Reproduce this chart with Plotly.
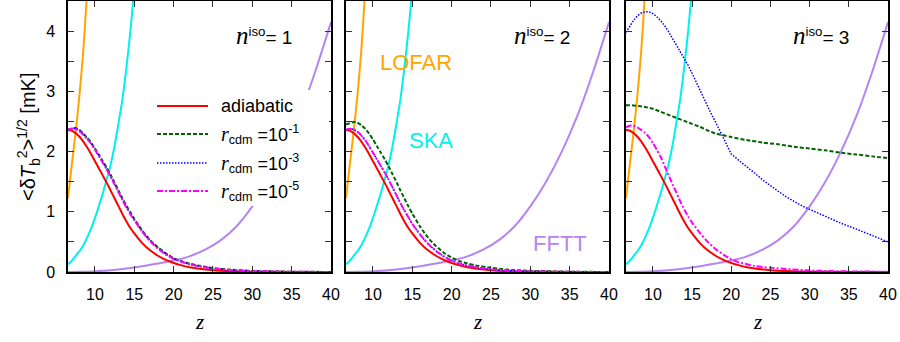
import plotly.graph_objects as go

# ---------------- data ----------------
z_main = [6.57, 7, 7.5, 8, 8.5, 9, 9.5, 10, 10.5, 11, 11.5, 12, 12.5, 13, 13.5, 14, 14.5, 15,
          16, 17, 18, 19, 20, 21, 22, 23, 25, 27, 30, 35, 40]

adiabatic = [2.36, 2.35, 2.31, 2.25, 2.17, 2.07, 1.96, 1.84, 1.72, 1.60, 1.48, 1.35, 1.22, 1.09, 0.96,
             0.84, 0.73, 0.64, 0.48, 0.36, 0.27, 0.20, 0.15, 0.11, 0.08, 0.06, 0.03, 0.015, 0.005, 0.001, 0.0]

# n_iso = 1
r1_n1 = [2.36, 2.38, 2.39, 2.36, 2.30, 2.23, 2.15, 2.05, 1.95, 1.84, 1.73, 1.61, 1.48, 1.35, 1.22,
         1.10, 0.99, 0.88, 0.69, 0.53, 0.41, 0.31, 0.23, 0.18, 0.14, 0.11, 0.065, 0.04, 0.018, 0.005, 0.001]
r3_n1 = [2.36, 2.38, 2.38, 2.35, 2.29, 2.22, 2.14, 2.04, 1.93, 1.82, 1.71, 1.59, 1.46, 1.33, 1.20,
         1.08, 0.97, 0.87, 0.68, 0.52, 0.40, 0.30, 0.22, 0.17, 0.13, 0.10, 0.06, 0.035, 0.016, 0.004, 0.001]
r5_n1 = [2.36, 2.38, 2.38, 2.34, 2.28, 2.21, 2.13, 2.03, 1.92, 1.81, 1.70, 1.58, 1.45, 1.32, 1.19,
         1.07, 0.96, 0.86, 0.67, 0.51, 0.39, 0.29, 0.22, 0.17, 0.13, 0.10, 0.06, 0.035, 0.015, 0.004, 0.001]

# n_iso = 2
r1_n2 = [2.45, 2.47, 2.49, 2.48, 2.44, 2.38, 2.30, 2.20, 2.09, 1.98, 1.87, 1.75, 1.62, 1.49, 1.35,
         1.22, 1.09, 0.97, 0.75, 0.57, 0.43, 0.32, 0.24, 0.18, 0.14, 0.11, 0.07, 0.04, 0.02, 0.005, 0.001]
r3_n2 = [2.36, 2.38, 2.37, 2.33, 2.27, 2.19, 2.09, 1.98, 1.87, 1.76, 1.65, 1.53, 1.40, 1.27, 1.14,
         1.02, 0.91, 0.80, 0.62, 0.47, 0.35, 0.26, 0.19, 0.14, 0.105, 0.08, 0.045, 0.025, 0.01, 0.003, 0.0]
r5_n2 = [2.36, 2.38, 2.37, 2.33, 2.27, 2.19, 2.09, 1.98, 1.87, 1.76, 1.65, 1.53, 1.40, 1.27, 1.14,
         1.02, 0.91, 0.80, 0.62, 0.47, 0.35, 0.26, 0.19, 0.14, 0.105, 0.08, 0.045, 0.025, 0.01, 0.003, 0.0]

# n_iso = 3
r5_n3 = [2.40, 2.43, 2.43, 2.40, 2.36, 2.31, 2.24, 2.14, 2.03, 1.91, 1.76, 1.61, 1.46, 1.32, 1.17,
         1.04, 0.92, 0.82, 0.65, 0.50, 0.38, 0.29, 0.21, 0.16, 0.13, 0.10, 0.07, 0.05, 0.025, 0.01, 0.005]

z_r1_n3 = [6.57, 7, 8, 9, 10, 11, 12, 13, 14, 15, 16, 17, 18, 19, 20, 22, 24, 26, 28, 30, 32, 34, 36, 38, 40]
r1_n3 = [2.77, 2.77, 2.76, 2.74, 2.71, 2.66, 2.61, 2.56, 2.51, 2.46, 2.41, 2.35, 2.30, 2.27, 2.24,
         2.19, 2.15, 2.12, 2.08, 2.05, 2.02, 1.98, 1.95, 1.92, 1.89]

z_r3_n3 = [6.57, 7, 7.5, 8, 8.5, 9, 9.5, 10, 10.5, 11, 11.5, 12, 12.5, 13, 13.5, 14, 14.5, 15, 15.5,
           16, 16.5, 17, 17.5, 18, 18.5, 19, 19.5, 20, 21, 22, 23, 24, 25, 26, 27, 28, 29, 30,
           32, 34, 36, 38, 40]
r3_n3 = [3.98, 4.07, 4.17, 4.25, 4.30, 4.32, 4.32, 4.29, 4.24, 4.17, 4.09, 3.99, 3.88, 3.77, 3.66,
         3.55, 3.43, 3.30, 3.16, 3.02, 2.87, 2.74, 2.61, 2.49, 2.36, 2.23, 2.10, 1.96, 1.85, 1.75,
         1.64, 1.53, 1.43, 1.34, 1.25, 1.17, 1.10, 1.04, 0.92, 0.81, 0.71, 0.61, 0.50]

# instrument sensitivities
z_lofar = [6.57, 7.0, 7.5, 8.0, 8.5, 8.9, 9.3]
lofar = [1.23, 1.72, 2.28, 2.90, 3.65, 4.45, 5.40]

z_ska = [6.57, 7, 7.5, 8, 8.5, 9, 9.5, 10, 10.5, 11, 11.5, 12, 12.5, 13, 13.5, 14, 14.5, 14.85, 15.2]
ska = [0.13, 0.18, 0.26, 0.34, 0.44, 0.57, 0.72, 0.90, 1.10, 1.31, 1.54, 1.79, 2.10, 2.48, 2.88,
       3.40, 4.00, 4.50, 5.10]

z_fftt = [6.57, 8, 10, 12, 14, 16, 18, 20, 22, 24, 26, 28, 30, 32, 34, 36, 38, 40]
fftt = [0.0, 0.003, 0.012, 0.03, 0.058, 0.095, 0.14, 0.19, 0.26, 0.37, 0.53, 0.76, 1.09, 1.50,
        2.00, 2.60, 3.33, 4.15]

panel_labels = ["1", "2", "3"]
x_ticks = [10, 15, 20, 25, 30, 35, 40]
y_ticks = [0, 1, 2, 3, 4]
legend_labels = [
    "adiabatic",
    "<span style='font-family:Liberation Serif;font-size:20px'><i>r</i></span><sub>cdm</sub> =10<sup>-1</sup>",
    "<span style='font-family:Liberation Serif;font-size:20px'><i>r</i></span><sub>cdm</sub> =10<sup>-3</sup>",
    "<span style='font-family:Liberation Serif;font-size:20px'><i>r</i></span><sub>cdm</sub> =10<sup>-5</sup>",
]

# ---------------- styles ----------------
W, H = 900, 342
C_RED, C_GREEN, C_BLUE, C_MAG = "#ff0000", "#006400", "#0000ff", "#ff00ff"
C_ORANGE, C_CYAN, C_PURPLE = "#ffa500", "#00f0f0", "#b684f2"
DASH_G = "4px,2px"
DASH_B = "1.5px,1.5px"
DASH_M = "6px,2px,2px,2px"
FONT = "Liberation Sans, Arial, Helvetica, sans-serif"
SERIF = "Liberation Serif, Times New Roman, serif"

panels_px = [(68, 331), (346, 609), (626, 888)]
y_top_px, y_bot_px = 1, 272

fig = go.Figure()

per_panel = [
    [(z_main, r1_n1), (z_main, r3_n1), (z_main, r5_n1)],
    [(z_main, r1_n2), (z_main, r3_n2), (z_main, r5_n2)],
    [(z_r1_n3, r1_n3), (z_r3_n3, r3_n3), (z_main, r5_n3)],
]

for i in range(3):
    xa = "x" if i == 0 else f"x{i+1}"
    ya = "y" if i == 0 else f"y{i+1}"
    fig.add_trace(go.Scatter(x=z_fftt, y=fftt, xaxis=xa, yaxis=ya, mode="lines",
                             line=dict(color=C_PURPLE, width=2, shape="spline", smoothing=0.8),
                             showlegend=False, hoverinfo="skip"))
    fig.add_trace(go.Scatter(x=z_ska, y=ska, xaxis=xa, yaxis=ya, mode="lines",
                             line=dict(color=C_CYAN, width=2, shape="spline", smoothing=0.6),
                             showlegend=False, hoverinfo="skip"))
    fig.add_trace(go.Scatter(x=z_lofar, y=lofar, xaxis=xa, yaxis=ya, mode="lines",
                             line=dict(color=C_ORANGE, width=2, shape="spline", smoothing=0.6),
                             showlegend=False, hoverinfo="skip"))
    (zg, g), (zb, b), (zm, m) = per_panel[i]
    fig.add_trace(go.Scatter(x=z_main, y=adiabatic, xaxis=xa, yaxis=ya, mode="lines",
                             line=dict(color=C_RED, width=2, shape="spline", smoothing=0.6),
                             showlegend=False))
    fig.add_trace(go.Scatter(x=zg, y=g, xaxis=xa, yaxis=ya, mode="lines",
                             line=dict(color=C_GREEN, width=2, dash=DASH_G, shape="spline", smoothing=0.6),
                             showlegend=False))
    fig.add_trace(go.Scatter(x=zb, y=b, xaxis=xa, yaxis=ya, mode="lines",
                             line=dict(color=C_BLUE, width=1.5, dash=DASH_B,
                                       shape="linear" if i == 2 else "spline", smoothing=0.6),
                             showlegend=False))
    fig.add_trace(go.Scatter(x=zm, y=m, xaxis=xa, yaxis=ya, mode="lines",
                             line=dict(color=C_MAG, width=2, dash=DASH_M, shape="spline", smoothing=0.6),
                             showlegend=False))

ydom = [1 - y_bot_px / H, 1 - y_top_px / H]
layout = dict(
    width=W, height=H, margin=dict(l=0, r=0, t=0, b=0),
    paper_bgcolor="white", plot_bgcolor="white",
    font=dict(family=FONT, size=16, color="black"),
    showlegend=False,
)
for i, (l, r) in enumerate(panels_px):
    sx = "" if i == 0 else str(i + 1)
    layout[f"xaxis{sx}"] = dict(
        domain=[l / W, r / W], range=[6.57, 40], anchor=f"y{sx}",
        tickvals=x_ticks, ticks="inside", ticklen=6, tickwidth=1, tickcolor="#333",
        showline=True, linecolor="black", linewidth=1.5, mirror="ticks",
        showgrid=False, zeroline=False, ticklabelstandoff=7,
        tickfont=dict(size=16), automargin=False,
    )
    layout[f"yaxis{sx}"] = dict(
        domain=ydom, range=[0, 4.5], anchor=f"x{sx}",
        tickvals=y_ticks, ticks="inside", ticklen=6, tickwidth=1, tickcolor="#333",
        minor=dict(dtick=0.5, tick0=0, ticks="inside", ticklen=6, tickwidth=1, tickcolor="#333"),
        showline=True, linecolor="black", linewidth=1.5, mirror="ticks",
        showgrid=False, zeroline=False, showticklabels=(i == 0),
        ticklabelstandoff=8, tickfont=dict(size=16), automargin=False,
    )
fig.update_layout(**layout)

anns = []
shapes = []
for i, (l, r) in enumerate(panels_px):
    anns.append(dict(xref="paper", yref="paper", x=(r - 37) / W, y=1 - 35 / H,
                     xanchor="right", yanchor="middle", showarrow=False,
                     text=(f"<span style='font-family:{SERIF};font-size:25px'><i>n</i></span>"
                           f"<sup>iso</sup>= {panel_labels[i]}"),
                     font=dict(size=19, color="black")))
    anns.append(dict(xref="paper", yref="paper", x=(l + r) / 2 / W, y=1 - 322 / H,
                     xanchor="center", yanchor="middle", showarrow=False,
                     text="<i>z</i>", font=dict(family=SERIF, size=21, color="black")))
anns.append(dict(xref="paper", yref="paper", x=28 / W, y=1 - 137 / H, textangle=-90,
                 xanchor="center", yanchor="middle", showarrow=False,
                 text="&lt;δ<i>T</i><sub>b</sub><sup>2</sup>&gt;<sup>1/2</sup> [mK]",
                 font=dict(size=20, color="black")))
anns.append(dict(xref="paper", yref="paper", x=416 / W, y=1 - 62 / H, showarrow=False,
                 xanchor="center", yanchor="middle", text="LOFAR",
                 font=dict(size=22, color=C_ORANGE)))
anns.append(dict(xref="paper", yref="paper", x=431 / W, y=1 - 140 / H, showarrow=False,
                 xanchor="center", yanchor="middle", text="SKA",
                 font=dict(size=22, color=C_CYAN)))
anns.append(dict(xref="paper", yref="paper", x=560 / W, y=1 - 243 / H, showarrow=False,
                 xanchor="center", yanchor="middle", text="FFTT",
                 font=dict(size=22, color=C_PURPLE)))

# legend box in panel 1
shapes.append(dict(type="rect", xref="paper", yref="paper", layer="above",
                   x0=150 / W, x1=329 / W, y0=1 - 206 / H, y1=1 - 90 / H,
                   fillcolor="white", line=dict(width=0)))
leg_y = [106, 134, 163, 191]
leg_styles = [(C_RED, 2, "solid"), (C_GREEN, 2, DASH_G), (C_BLUE, 1.5, DASH_B), (C_MAG, 2, DASH_M)]
for yy, (c, w, d), lab in zip(leg_y, leg_styles, legend_labels):
    shapes.append(dict(type="line", xref="paper", yref="paper", layer="above",
                       x0=157 / W, x1=208 / W, y0=1 - yy / H, y1=1 - yy / H,
                       line=dict(color=c, width=w, dash=d)))
    anns.append(dict(xref="paper", yref="paper", x=219 / W, y=1 - yy / H,
                     xanchor="left", yanchor="middle", showarrow=False,
                     text=lab, font=dict(size=18, color="black")))

fig.update_layout(annotations=anns, shapes=shapes)
fig.write_html("out.html", config={"displayModeBar": False},
               post_script="document.body.style.margin='0';document.body.style.overflow='hidden';")
